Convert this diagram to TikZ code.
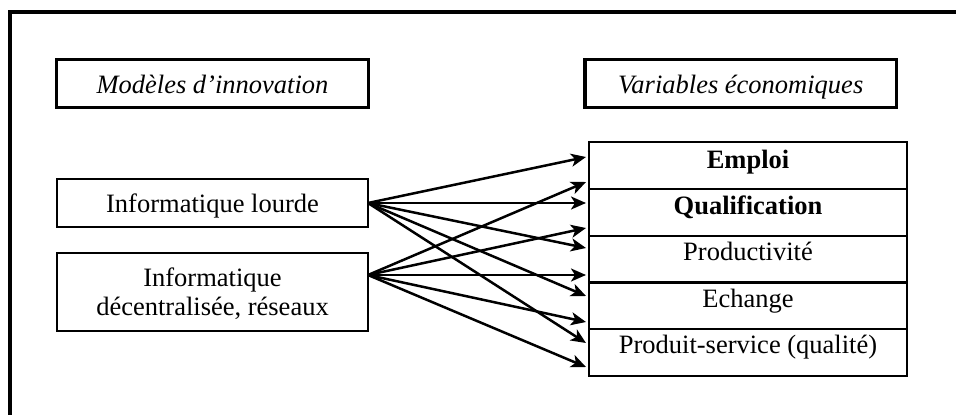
\documentclass[tikz,border=0pt]{standalone}
\usepackage{fontspec}
\setmainfont{Liberation Serif}
\usetikzlibrary{arrows.meta}
\tikzset{
  frameline/.style={line width=4pt},
  headbox/.style={draw, line width=3.5pt, rectangle, inner sep=0pt, minimum height=48pt},
  leftbox/.style={draw, line width=2pt, rectangle, inner sep=0pt, minimum width=311pt},
  rowbox/.style={draw, line width=2pt, rectangle, inner sep=0pt, minimum width=318pt, minimum height=47pt},
  txt/.style={inner sep=0pt, anchor=base, font=\fontsize{26.5}{28}\selectfont},
  itxt/.style={txt, font=\fontsize{26.5}{28}\selectfont\itshape},
  btxt/.style={txt, font=\fontsize{26.5}{28}\selectfont\bfseries},
  conn/.style={line width=2.5pt, -{Stealth[length=15pt,width=13pt,inset=4pt]}}
}
\begin{document}
\begin{tikzpicture}[x=1pt,y=-1pt]
\useasboundingbox (0,0) rectangle (956,415);
\clip (0,0) rectangle (956,415);
\fill[white] (0,0) rectangle (956,415);
% outer frame (cut by the picture edges)
\draw[frameline] (9.5,430) -- (9.5,12) -- (970,12);
% headers
\node[headbox, minimum width=312pt] (h1) at (212.5,83.5) {};
\node[itxt] (h1t) at (212.5,93) {Modèles d’innovation};
\node[headbox, minimum width=311.5pt] (h2) at (740.75,83.5) {};
\node[itxt] (h2t) at (740.75,93) {Variables économiques};
% left boxes
\node[leftbox, minimum height=48pt] (b1) at (212.5,203) {};
\node[txt] (b1t) at (212.5,212) {Informatique lourde};
\node[leftbox, minimum height=78pt] (b2) at (212.5,292) {};
\node[txt] (b2t) at (212.5,286) {Informatique};
\node[txt] (b2u) at (212.5,315) {décentralisée, réseaux};
% table rows
\node[rowbox] (r1) at (748,165.5) {};
\node[btxt] (r1t) at (748,168) {Emploi};
\node[rowbox] (r2) at (748,212.5) {};
\node[btxt] (r2t) at (748,214) {Qualification};
\node[rowbox] (r3) at (748,259) {};
\node[txt] (r3t) at (748,260) {Productivité};
\node[rowbox] (r4) at (748,305.5) {};
\node[txt] (r4t) at (748,307) {Echange};
\node[rowbox] (r5) at (748,352.5) {};
\node[txt] (r5t) at (748,353) {Produit-service (qualité)};
% connector ends
\coordinate (s1) at (368,203);
\coordinate (s2) at (368,275);
\coordinate (a1) at (586,157);
\coordinate (a2) at (586,182);
\coordinate (a3) at (586,203);
\coordinate (a4) at (586,228);
\coordinate (a5) at (586,248);
\coordinate (a6) at (586,275);
\coordinate (a7) at (586,296);
\coordinate (a8) at (586,322);
\coordinate (a9) at (586,343);
\coordinate (a10) at (586,367);
% connectors
\foreach \t in {a1,a3,a5,a7,a9} \draw[conn] (s1) -- (\t);
\foreach \t in {a2,a4,a6,a8,a10} \draw[conn] (s2) -- (\t);
\end{tikzpicture}
\end{document}
